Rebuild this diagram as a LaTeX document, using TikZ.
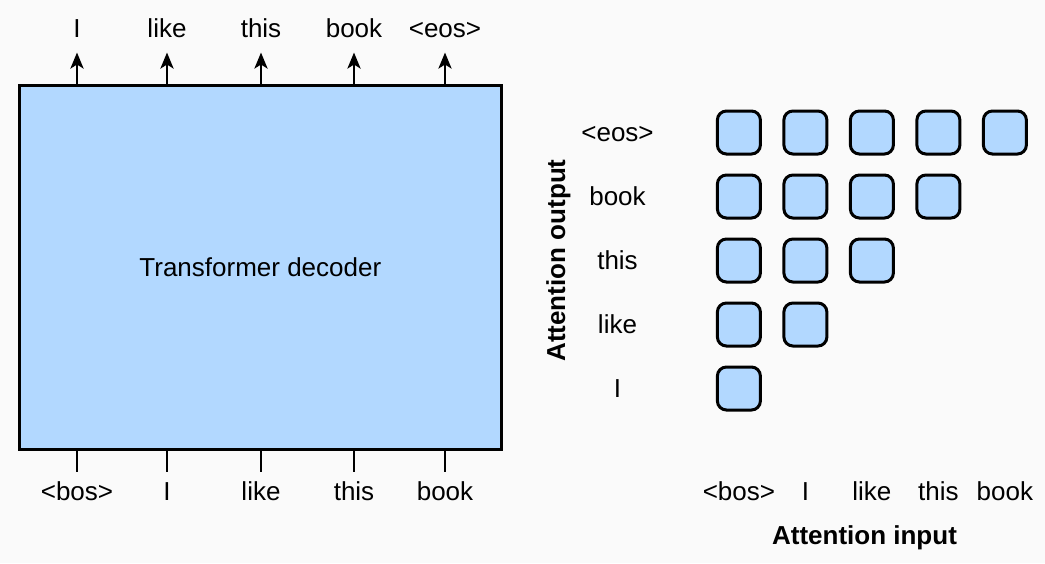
\documentclass[tikz,border=0pt]{standalone}
\usepackage{fontspec}
\setmainfont{Liberation Sans}
\usetikzlibrary{arrows.meta}
\definecolor{bg}{RGB}{250,250,250}
\definecolor{boxblue}{RGB}{178,216,255}
\begin{document}
\begin{tikzpicture}[x=1pt,y=-1pt,
  lbl/.style={font=\fontsize{26}{30}\selectfont, anchor=base, inner sep=0pt},
  blbl/.style={font=\fontsize{26}{30}\selectfont\bfseries, anchor=base, inner sep=0pt},
  decbox/.style={draw=black, fill=boxblue, line width=3pt, minimum width=482.7pt, minimum height=363.3pt, inner sep=0pt, font=\fontsize{26}{30}\selectfont},
  cell/.style={draw=black, fill=boxblue, line width=3pt, rounded corners=9pt, minimum width=43pt, minimum height=43pt, inner sep=0pt},
  conn/.style={line width=2.8pt},
  arr/.style={conn, -{Stealth[length=16pt,width=13pt,inset=4pt]}}]
\fill[bg] (0,0) rectangle (1045,563);
\useasboundingbox (0,0) rectangle (1045,563);

% decoder box
\node[decbox] (dec) at (260.35,267.35) {Transformer decoder};

% outputs
\foreach \x/\t/\n in {77/I/1, 167/like/2, 261/this/3, 354/book/4, 445/{<eos>}/5}{
  \coordinate (o\n) at (\x,52.5);
  \node[lbl] (ot\n) at (\x,37) {\t};
  \draw[arr] (dec.north -| o\n) -- (o\n);
}
% inputs
\foreach \x/\t/\n in {77/{<bos>}/1, 167/I/2, 261/like/3, 354/this/4, 445/book/5}{
  \coordinate (i\n) at (\x,471.7);
  \node[lbl] (it\n) at (\x,500) {\t};
  \draw[conn] (dec.south -| i\n) -- (i\n);
}

% attention grid
\foreach \t/\r in {{<eos>}/0, book/1, this/2, like/3, I/4}{
  \node[lbl] (rl\r) at (617.5,132.5+64*\r+9) {\t};
}
\foreach \r in {0,...,4}{
  \pgfmathtruncatemacro{\last}{4-\r}
  \foreach \c in {0,...,\last}{
    \node[cell] (s\r\c) at (738.9+66.5*\c,132.5+64*\r) {};
  }
}
\foreach \t/\c in {{<bos>}/0, I/1, like/2, this/3, book/4}{
  \node[lbl] (cl\c) at (738.9+66.5*\c,500) {\t};
}
\node[blbl] (ain) at (864.5,544) {Attention input};
\node[blbl, rotate=90] (aout) at (565,260.5) {Attention output};
\end{tikzpicture}
\end{document}
